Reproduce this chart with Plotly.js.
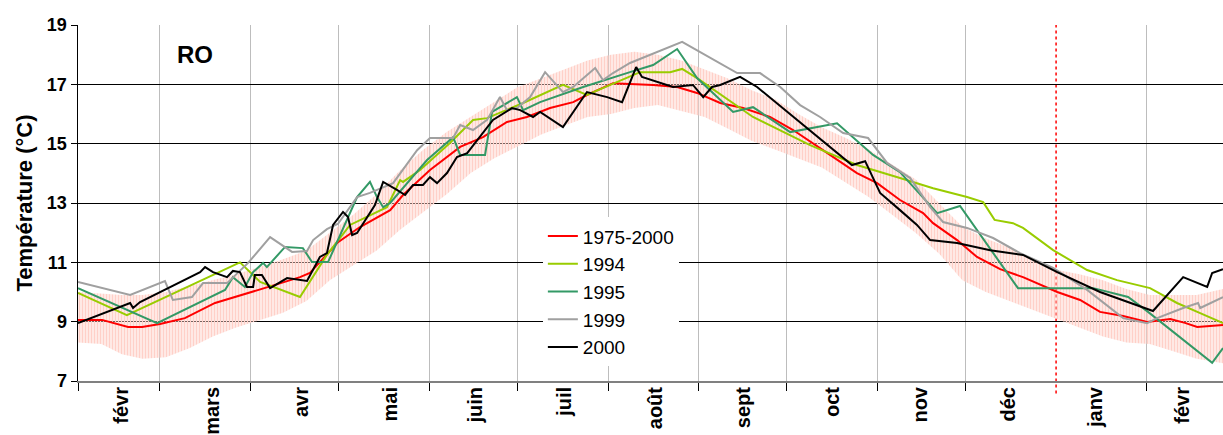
<!DOCTYPE html>
<html>
<head>
<meta charset="utf-8">
<script src="https://cdn.plot.ly/plotly-3.0.1.min.js"></script>
<style>html,body{margin:0;padding:0;background:#fff;}#chart{width:1223px;height:435px;}</style>
</head>
<body>
<div id="chart"></div>
<script>
// Day numbers count from 1 February (day 0); 1 January = day 334.
const monthNames = ['févr','mars','avr','mai','juin','juil','août','sept','oct','nov','déc','janv','févr'];
const monthLabelDay = [15, 45.8, 76.2, 106.6, 135.6, 166.3, 197.1, 227.1, 257.5, 287.6, 317.6, 347.3, 377];
const monthStartDay = [0, 28, 59, 89, 120, 150, 181, 212, 242, 273, 303, 365];
const yearBoundaryDay = 334;
const yTicks = [7, 9, 11, 13, 15, 17, 19];

// 1975-2000 mean
const meanDay = [0,8.2,17.1,21.9,28,36.5,46.8,58.7,67.3,75.8,79.2,88.8,96.3,106.6,111,120.2,127,130.5,138.3,146.5,153.3,161.2,169.1,173.8,182.7,196.4,204.6,211.4,219.3,227.1,236.3,244.2,254.4,266,272.9,280.7,288.6,292,300.2,307,314.9,322.7,334.4,342.2,349,356.9,365.1,373,378,382.2,391];
const meanT = [9.06,9.06,8.82,8.82,8.92,9.12,9.63,9.97,10.24,10.5,10.64,11.68,12.19,12.76,13.27,14.11,14.62,14.89,15.22,15.73,15.9,16.2,16.4,16.64,17.04,16.98,16.91,16.71,16.37,16.2,15.9,15.46,14.78,14.01,13.67,13.1,12.66,12.32,11.75,11.18,10.77,10.5,10.0,9.73,9.33,9.19,8.99,9.09,8.96,8.82,8.89];

// 1975-2000 range (min / max)
const bandDay = [0,8,15,22,30,38,46,54,62,70,78,86,94,102,110,118,126,134,142,150,158,166,174,182,190,198,206,214,222,230,238,246,254,262,270,278,286,294,302,310,318,326,334,342,350,358,366,374,382,391];
const bandHigh = [10.0,9.95,9.9,9.9,10.0,10.2,10.4,10.6,10.85,11.1,11.4,12.0,12.6,13.3,14.1,14.8,15.4,15.9,16.4,16.9,17.2,17.5,17.8,18.0,18.1,18.0,17.8,17.5,17.2,16.8,16.5,16.0,15.55,15.2,14.8,14.3,13.8,13.0,12.2,11.8,11.5,11.1,10.75,10.6,10.4,10.1,9.9,9.9,9.9,10.1];
const bandLow = [8.3,8.25,7.9,7.75,7.8,8.1,8.5,8.8,9.05,9.3,9.7,10.4,10.9,11.4,12.1,12.7,13.3,14.0,14.5,14.9,15.3,15.6,15.9,16.0,16.2,16.3,16.1,15.9,15.5,15.1,14.8,14.5,14.2,13.7,13.2,12.6,12.0,11.3,10.4,10.0,9.7,9.4,9.1,8.8,8.5,8.3,8.25,8.0,7.75,7.6];

// 1994
const day1994 = [0,16.7,55.3,62.2,75.8,85,92.9,105.5,110,111,116.8,127,134.9,139.7,152,165.6,173.8,191.9,202.2,206.3,211.4,230.5,250,266,280.7,292,303.6,309.1,313,319.3,322.7,333,344.6,354.8,366.1,375.3,383.2,391];
const t1994 = [9.97,9.22,11.0,10.34,9.83,11.25,12.26,12.86,13.77,13.71,14.11,15.02,15.8,15.86,16.37,16.98,16.64,17.41,17.41,17.52,17.21,15.9,14.95,14.28,13.84,13.5,13.2,13.03,12.43,12.32,12.16,11.41,10.74,10.4,10.13,9.63,9.29,8.95];

// 1995
const day1995 = [0,27,50.2,52.9,57,59.8,63.2,64.5,70.7,76.8,79.9,85.4,95.3,99.7,102.1,104.2,106.6,112.4,119.2,128.1,130.5,139,141.4,149.9,152,157.8,172.5,188.5,196.4,204.6,211.4,223.7,230.5,243.2,259.2,271.5,280.7,293.4,301.2,314.9,321,346.7,358.6,365.4,387.3,391];
const t1995 = [10.13,8.95,10.07,10.5,10.17,10.67,10.98,10.84,11.52,11.48,11.01,11.01,13.2,13.71,13.2,12.86,13.0,13.67,14.45,15.22,14.62,14.62,16.07,16.57,16.13,16.4,16.91,17.41,17.65,18.19,17.21,16.07,16.23,15.39,15.69,14.62,14.04,12.66,12.9,10.98,10.13,10.13,9.83,9.33,7.61,8.11];

// 1999
const day1999 = [0,17.8,29.7,32.4,38.9,42.7,50.9,58.1,65.6,73.1,78.2,80.3,85,88.8,95.3,99.7,107.6,115.8,120.2,128.1,130.5,134.9,139.7,144.1,146.5,149.9,154.4,159.5,165.6,169.1,176.6,179.3,182.7,188.5,206.3,225.1,232.9,239.8,246.6,253.4,261.3,269.8,276.3,284.2,291,295.4,303.6,312.5,321.7,333,344.6,356.9,365.1,368.5,377.4,382.5,383.2,391];
const t1999 = [10.34,9.9,10.37,9.73,9.83,10.3,10.3,10.98,11.85,11.35,11.38,11.75,12.12,12.3,13.2,13.34,13.67,14.78,15.19,15.19,15.63,15.46,15.8,16.57,16.13,16.2,16.57,17.41,16.74,16.91,17.55,17.14,17.38,17.72,18.43,17.38,17.38,16.91,16.3,15.9,15.36,15.19,14.35,13.84,12.86,12.36,12.16,11.82,11.31,10.81,10.07,9.12,8.95,9.12,9.46,9.63,9.46,9.83];

// 2000
const day2000 = [0,17.8,18.8,21.2,41.7,43.4,46.1,50.9,52.9,55.3,57.7,59.8,60.4,62.8,65.6,69,71.4,78.2,82.6,85,87.1,90.5,92.2,93.6,95.3,101.4,104.2,108.9,111.7,114.4,117.8,120.2,122.6,126,129.4,132.9,138.3,141.7,148.2,151,155.4,157.8,165.6,173.8,180.7,185.8,190.6,192.6,203.2,210,213.5,216.5,219.3,226.1,231.9,264.3,268.8,273.9,280.7,286.5,291,300.2,311.5,322.7,334.4,349,367.1,377.4,385.6,387.3,391];
const t2000 = [8.95,9.63,9.46,9.66,10.67,10.84,10.67,10.5,10.71,10.67,10.17,10.17,10.57,10.57,10.13,10.34,10.47,10.37,11.18,11.31,12.26,12.7,12.53,11.92,11.99,12.93,13.71,13.44,13.27,13.61,13.61,13.87,13.67,14.01,14.55,14.68,15.39,15.8,16.2,16.13,15.9,16.07,15.56,16.74,16.57,16.4,17.58,17.25,16.91,16.98,16.57,16.91,16.98,17.25,16.91,14.28,14.41,13.34,12.76,12.26,11.75,11.65,11.41,11.25,10.67,10.0,9.36,10.5,10.17,10.64,10.77];

const seriesNames = ['1975-2000','1994','1995','1999','2000'];
const seriesColors = ['#FF0000','#99CC00','#339966','#A0A0A0','#000000'];
const seriesDays = [meanDay, day1994, day1995, day1999, day2000];
const seriesTemps = [meanT, t1994, t1995, t1999, t2000];

const FONT = 'Arial, "Liberation Sans", sans-serif';

const traces = [
  {x: bandDay, y: bandLow, mode: 'lines', line: {width: 0, color: 'rgba(0,0,0,0)'}, showlegend: false, hoverinfo: 'skip'},
  {x: bandDay, y: bandHigh, mode: 'lines', line: {width: 0, color: 'rgba(0,0,0,0)'}, fill: 'tonexty',
   fillcolor: 'rgba(0,0,0,0)',
   fillpattern: {shape: '|', size: 3, solidity: 0.65, fgcolor: '#FFD0C8', bgcolor: 'rgba(255,255,255,0)', fillmode: 'replace'},
   showlegend: false, hoverinfo: 'skip'}
];
seriesNames.forEach((n, i) => {
  traces.push({x: seriesDays[i], y: seriesTemps[i], name: n, legendgroup: 'g' + i, mode: 'lines',
    line: {color: seriesColors[i], width: 2}});
});

const layout = {
  width: 1223, height: 435,
  margin: {l: 78, r: 0, t: 25, b: 54},
  paper_bgcolor: '#ffffff', plot_bgcolor: '#ffffff',
  font: {family: FONT, color: '#000'},
  showlegend: true,
  legend: {x: 0.406, y: 0.460, xanchor: 'left', yanchor: 'top', bgcolor: '#ffffff', borderwidth: 0,
           font: {size: 19, family: FONT, color: '#000'}, itemwidth: 30, traceorder: 'normal', tracegroupgap: 0.6},
  xaxis: {
    range: [0, 391], tickmode: 'array', tickvals: monthLabelDay, ticktext: monthNames,
    tickangle: -90, ticks: '', showgrid: false, zeroline: false,
    showline: true, linecolor: '#808080', linewidth: 2, ticklabelstandoff: -4,
    tickfont: {size: 20, family: FONT, weight: 'bold', color: '#000'},
    minor: {tickmode: 'array', tickvals: monthStartDay, ticks: 'outside', ticklen: 8, tickwidth: 1,
            tickcolor: '#000', showgrid: true, gridcolor: '#BDBDBD', gridwidth: 1}
  },
  yaxis: {
    range: [7, 19], tickmode: 'array', tickvals: yTicks, ticks: 'outside', ticklen: 6, tickcolor: '#000',
    showgrid: true, gridcolor: '#000', gridwidth: 1, zeroline: false,
    showline: true, linecolor: '#000', linewidth: 1.5,
    tickfont: {size: 18, family: FONT, weight: 'bold', color: '#000'},
    title: {text: 'Température (°C)', font: {size: 22, family: FONT, weight: 'bold', color: '#000'}, standoff: 8}
  },
  shapes: [
    {type: 'line', xref: 'x', yref: 'paper', x0: yearBoundaryDay, x1: yearBoundaryDay, y0: -0.035, y1: 1,
     line: {color: '#FF0000', width: 1.5, dash: 'dot'}, layer: 'between'}
  ],
  annotations: [
    {xref: 'x', yref: 'y', x: 40, y: 18, text: 'RO', showarrow: false,
     font: {size: 24, family: FONT, weight: 'bold', color: '#000'}}
  ]
};

Plotly.newPlot('chart', traces, layout, {staticPlot: true, displayModeBar: false});
</script>
</body>
</html>
